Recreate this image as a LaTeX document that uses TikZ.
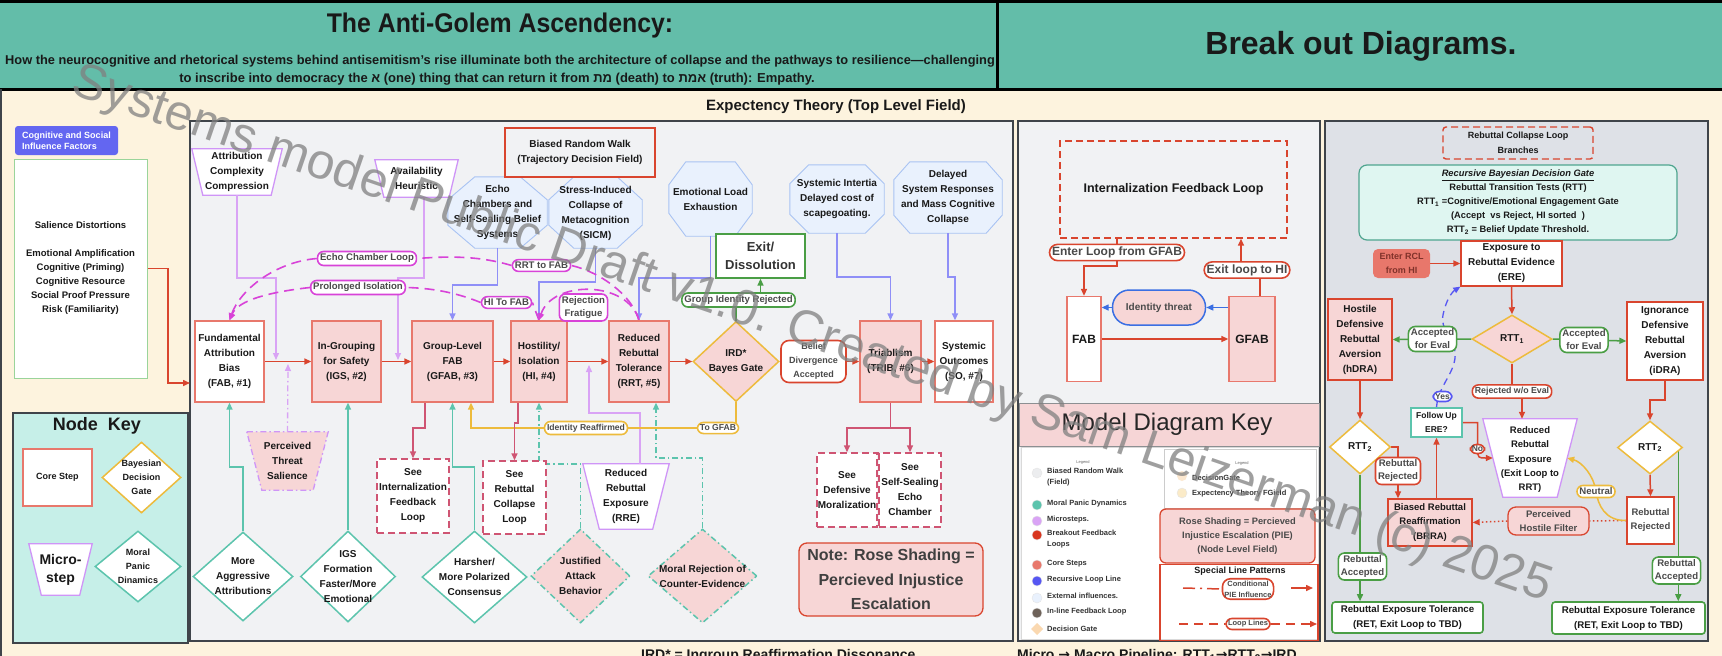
\documentclass[tikz,border=0pt]{standalone}
\usepackage{graphicx}
\usepackage{fontspec}
\setmainfont{Liberation Sans}
\newfontfamily\hebfont[Script=Hebrew]{Liberation Sans}
\newfontfamily\arrowfont{DejaVu Sans}
\TeXXeTstate=1
\usepackage{tikz}
\usetikzlibrary{shapes.geometric,arrows.meta}

\definecolor{headteal}{HTML}{63BDA9}
\definecolor{cream}{HTML}{FDF3DE}
\definecolor{panelgray}{HTML}{F1F2F4}
\definecolor{rclgray}{HTML}{DEE1E7}
\definecolor{paneledge}{HTML}{3F444A}
\definecolor{coreline}{HTML}{E8786C}
\definecolor{rosefill}{HTML}{F7D6D6}
\definecolor{microline}{HTML}{CF95F7}
\definecolor{microarrow}{HTML}{D9A3F5}
\definecolor{fieldfill}{HTML}{E9F1FD}
\definecolor{fieldline}{HTML}{A9C3F3}
\definecolor{fieldarrow}{HTML}{8F8FF7}
\definecolor{panicteal}{HTML}{5CC4AD}
\definecolor{gateyellow}{HTML}{EDBB3C}
\definecolor{loopmag}{HTML}{D843D8}
\definecolor{flowred}{HTML}{D9452E}
\definecolor{seecrimson}{HTML}{CF5573}
\definecolor{exitgreen}{HTML}{4A9E45}
\definecolor{keyteal}{HTML}{C6EFE8}
\definecolor{factorblue}{HTML}{6366F1}
\definecolor{factorline}{HTML}{9AD49A}
\definecolor{threatblue}{HTML}{3B6FE3}
\definecolor{gatefill}{HTML}{DFF6F1}
\definecolor{gateline}{HTML}{4FA58F}
\definecolor{enterfill}{HTML}{E8776B}
\definecolor{entertext}{HTML}{80322A}
\definecolor{labeltext}{HTML}{4A4A4A}
\definecolor{keyfill}{HTML}{F6D5D6}
\definecolor{brwdot}{HTML}{ECEDEF}
\definecolor{breakred}{HTML}{D8361F}
\definecolor{loopblue}{HTML}{5656F2}
\definecolor{inlinebrown}{HTML}{6E6259}
\definecolor{gatepale}{HTML}{FAD8B0}
\definecolor{etpale}{HTML}{FBEBC8}

\pgfdeclarelayer{panels}
\pgfdeclarelayer{edges}
\pgfsetlayers{panels,edges,main}

% outline of a micro step (wide top) and of a field influence (octagon)
\newcommand{\microshape}[3][]{%
	\filldraw[fill=white,draw=microline,line width=1.3pt,#1] ([xshift=-#3]#2.north west) -- ([xshift=#3]#2.north east) -- ([xshift=-#3]#2.south east) -- ([xshift=#3]#2.south west) -- cycle;}
\newcommand{\fieldshape}[3]{%
	\filldraw[fill=fieldfill,draw=fieldline,line width=0.9pt] ([xshift=#2]#1.north west) -- ([xshift=-#2]#1.north east) -- ([yshift=-#3]#1.north east) -- ([yshift=#3]#1.south east) -- ([xshift=-#2]#1.south east) -- ([xshift=#2]#1.south west) -- ([yshift=#3]#1.south west) -- ([yshift=-#3]#1.north west) -- cycle;}

\begin{document}
\begin{tikzpicture}[x=1pt,y=-1pt,>={Triangle[length=7pt,width=6pt]},
			every node/.style={font=\bfseries\fontsize{10}{15}\selectfont,align=center,inner sep=1pt,text=black!90},
			dims/.style 2 args={minimum width=#1pt,minimum height=#2pt},
			core node/.style={rectangle,draw=coreline,line width=1.3pt,fill=white},
			rose node/.style={core node,fill=rosefill},
			micro node/.style={rectangle,inner sep=0pt},
			field node/.style={rectangle,inner sep=0pt},
			gate node/.style={diamond,draw=gateyellow,line width=1.5pt,fill=white},
			panic node/.style={diamond,draw=panicteal,line width=1.5pt,fill=white},
			mixed dash/.style={dash pattern=on 6pt off 3pt on 1.5pt off 3pt},
			see node/.style={rectangle,draw=seecrimson,dash pattern=on 7pt off 4pt,line width=1.4pt,fill=white},
			tag node/.style={rectangle,rounded corners=6pt,draw,line width=1.6pt,fill=white,text=labeltext,inner sep=2.5pt,font=\bfseries\fontsize{9.6}{13}\selectfont},
			inside/.style={inner sep=0pt},
			flow/.style={->,draw=flowred,line width=1.5pt},
			see line/.style={->,draw=seecrimson,line width=1.5pt},
			field line/.style={->,draw=fieldarrow,line width=1.3pt},
			micro line/.style={->,draw=microarrow,line width=1.3pt},
			panic line/.style={->,draw=panicteal,line width=1.5pt},
			gate line/.style={->,draw=gateyellow,line width=1.5pt},
			exit line/.style={->,draw=exitgreen,line width=1.5pt},
			loop line/.style={draw=loopmag,line width=1.6pt,dash pattern=on 10pt off 6pt}
			]
			
			\def \rowy {361.5};
			\def \keyx {1037};
			
			\useasboundingbox (0,0) rectangle (1722,656);
			
			\begin{pgfonlayer}{panels}
			\fill[cream] (0,0) rectangle (1722,656);
			\fill[headteal] (0,0) rectangle (1722,89);
			\draw[black,line width=3pt] (0,1.5) -- (1722,1.5) (0,89) -- (1722,89) (997,0) -- (997,89);
			\draw[paneledge,line width=2pt] (1,89) -- (1,656);
			\filldraw[fill=panelgray,draw=paneledge,line width=2.5pt] (190,121) rectangle (1013,641);
			\filldraw[fill=panelgray,draw=paneledge,line width=2.5pt] (1018,121) rectangle (1320,641);
			\filldraw[fill=rclgray,draw=paneledge,line width=2.5pt] (1325,121) rectangle (1708,641);
			\filldraw[fill=keyteal,draw=paneledge,line width=2.5pt] (13,413) rectangle (188,643);
			\filldraw[fill=keyfill,draw=paneledge!60,line width=1pt] (1019,403) rectangle (1319,446);
			\filldraw[fill=white,draw=black!15,line width=0.6pt] (1021,447) rectangle (1318,639);
			\filldraw[fill=white,draw=black!20,line width=0.6pt] (1164,449) rectangle (1316,508);
			\end{pgfonlayer}
			
			% header
			\node[font=\bfseries\fontsize{27}{30}\selectfont] (title) at (500,26) {\scalebox{0.92}[1]{The Anti-Golem Ascendency:}};
			\begin{scope}
				\clip (0,0) rectangle (995,89);
				\node[anchor=west,font=\bfseries\fontsize{12.8}{15}\selectfont] (subA) at (4,61) {How the neurocognitive and rhetorical systems behind antisemitism’s rise illuminate both the architecture of collapse and the pathways to resilience—challenging us};
			\end{scope}
			\node[font=\bfseries\fontsize{13}{15}\selectfont] (subB) at (497,79) {to inscribe into democracy the {\hebfont\beginR א\endR} (one) thing that can return it from {\hebfont\beginR מת\endR} (death) to {\hebfont\beginR אמת\endR} (truth): Empathy.};
			\node[font=\bfseries\fontsize{32}{36}\selectfont] (breakout) at (1361,46) {Break out Diagrams.};
			\node[font=\bfseries\fontsize{15}{18}\selectfont] (extitle) at (836,107) {Expectency Theory (Top Level Field)};
			
			% influence factors
			\node[fill=factorblue,text=white,rounded corners=3pt,dims={103}{29},align=left,font=\bfseries\fontsize{9}{11}\selectfont] (cogtitle) at (66.5,140.5) {Cognitive and Social\\Influence Factors};
			\node[draw=factorline,line width=1pt,fill=white,dims={133}{219},font=\bfseries\fontsize{9.5}{14}\selectfont] (cogbox) at (80.5,268.5) {Salience Distortions\\[14pt]Emotional Amplification\\Cognitive (Priming)\\Cognitive Resource\\Social Proof Pressure\\Risk (Familiarity)};
			\coordinate (mainin) at (190,383);
			
			% node key
			\node[font=\bfseries\fontsize{18}{22}\selectfont] (nktitle) at (97,426) {Node\ \ Key};
			\node[core node,dims={69}{57},font=\bfseries\fontsize{9}{12}\selectfont] (kcore) at (57.5,477.5) {Core Step};
			\node[gate node,dims={79}{71},label={[inside,font=\bfseries\fontsize{9}{14}\selectfont]center:{Bayesian\\Decision\\Gate}}] (kbdg) at (141.5,477.5) {};
			\node[micro node,dims={50.5}{51},font=\bfseries\fontsize{14}{18}\selectfont] (kmicro) at (60.5,569.5) {Micro-\\step};
			\node[panic node,dims={86}{71},label={[inside,font=\bfseries\fontsize{9}{14}\selectfont]center:{Moral\\Panic\\Dinamics}}] (kmpd) at (138,566.5) {};
			
			% field influences
			\node[micro node,dims={79}{46}] (acc) at (237,172) {Attribution\\Complexity\\Compression};
			\node[micro node,dims={74}{37}] (ah) at (416.5,178.5) {Availability\\Heuristic};
			\node[rectangle,draw=flowred,line width=1.5pt,dims={150}{49}] (brw) at (580,152.5) {Biased Random Walk\\(Trajectory Decision Field)};
			\node[field node,dims={99}{71}] (echo) at (497.5,212.5) {Echo\\Chambers and\\Self-Sealing Belief\\Systems};
			\node[field node,dims={93}{71}] (sicm) at (595.5,212.5) {\\[-6pt]Stress-Induced\\Collapse of\\Metacognition\\(SICM)};
			\node[field node,dims={83}{74}] (ele) at (710.5,199) {Emotional Load\\Exhaustion};
			\node[field node,dims={94}{68}] (sysint) at (837,199) {Systemic Intertia\\Delayed cost of\\scapegoating.};
			\node[field node,dims={108}{71}] (dsr) at (948,197.5) {Delayed\\System Responses\\and Mass Cognitive\\Collapse};
			\node[core node,draw=exitgreen,dims={89}{44},text=black!80,font=\bfseries\fontsize{13}{18}\selectfont] (exit) at (760.5,256) {Exit/\\Dissolution};
			
			% core chain
			\node[core node,dims={69}{81}] (fab) at (229.5,\rowy) {Fundamental\\Attribution\\Bias\\(FAB, \#1)};
			\node[rose node,dims={69}{81}] (igs) at (346.5,\rowy) {In-Grouping\\for Safety\\(IGS, \#2)};
			\node[rose node,dims={81}{81}] (gfab) at (452.5,\rowy) {Group-Level\\FAB\\(GFAB, \#3)};
			\node[rose node,dims={56}{81}] (hi) at (539,\rowy) {Hostility/\\Isolation\\(HI, \#4)};
			\node[rose node,dims={60}{81}] (rrt) at (639,\rowy) {Reduced\\Rebuttal\\Tolerance\\(RRT, \#5)};
			\node[gate node,fill=rosefill,dims={86}{80},label={[inside]center:{IRD*\\Bayes Gate}}] (ird) at (736,\rowy) {};
			\node[tag node,draw=flowred,rounded corners=8pt,dims={65}{42},font=\bfseries\fontsize{9}{14}\selectfont] (bda) at (813.5,\rowy) {Belief\\Divergence\\Accepted};
			\node[rose node,dims={61}{81}] (trib) at (890.5,\rowy) {Triablism\\(TRIB, \#6)};
			\node[core node,dims={58}{81}] (so) at (964,\rowy) {Systemic\\Outcomes\\(SO, \#7)};
			
			% loop labels
			\node[tag node,draw=loopmag] (eclbl) at (367,258.5) {Echo Chamber Loop};
			\node[tag node,draw=loopmag] (pilbl) at (358,287.5) {Prolonged Isolation};
			\node[tag node,draw=loopmag] (rrtlbl) at (541.5,265.5) {RRT to FAB};
			\node[tag node,draw=loopmag] (hilbl) at (506.5,302.5) {HI To FAB};
			\node[tag node,draw=loopmag] (rflbl) at (583.5,307.5) {Rejection\\Fratigue};
			\node[tag node,draw=exitgreen] (girlbl) at (738.5,300) {Group Identity Rejected};
			\node[tag node,draw=gateyellow,font=\bfseries\fontsize{8.6}{10}\selectfont] (idrlbl) at (586,428) {Identity Reaffirmed};
			\node[tag node,draw=gateyellow,font=\bfseries\fontsize{8.6}{10}\selectfont] (togfablbl) at (718,428) {To GFAB};
			
			% moral panic and breakouts
			\node[micro node,dims={66}{58}] (pts) at (287.5,461) {Perceived\\Threat\\Salience};
			\node[panic node,dims={100}{89},label={[inside]center:{More\\Aggressive\\Attributions}}] (maa) at (243,576.5) {};
			\node[panic node,dims={95}{91},label={[inside]center:{IGS\\Formation\\Faster/More\\Emotional}}] (igsf) at (348,576.5) {};
			\node[see node,dims={72}{74}] (sifl) at (413,496) {See\\Internalization\\Feedback\\Loop};
			\node[see node,dims={63}{73}] (srcl) at (514.5,497.5) {See\\Rebuttal\\Collapse\\Loop};
			\node[panic node,dims={105}{92},label={[inside]center:{Harsher/\\More Polarized\\Consensus}}] (hmpc) at (474.5,577) {};
			\node[panic node,fill=rosefill,mixed dash,dims={99}{94},label={[inside]center:{Justified\\Attack\\Behavior}}] (jab) at (580.5,576) {};
			\node[micro node,dims={69.5}{65}] (rre) at (626,496.5) {Reduced\\Rebuttal\\Exposure\\(RRE)};
			\node[panic node,fill=rosefill,mixed dash,dims={109}{94},label={[inside]center:{Moral Rejection of\\Counter-Evidence}}] (mrce) at (702.5,576) {};
			\node[see node,dims={60}{74}] (sdm) at (847,490) {See\\Defensive\\Moralization};
			\node[see node,dims={62}{74}] (sse) at (910,490) {See\\Self-Sealing\\Echo\\Chamber};
			\node[rose node,draw=flowred,rounded corners=8pt,dims={184}{73},text=black!75,font=\bfseries\fontsize{16}{24.5}\selectfont] (note) at (891,579.5) {Note: Rose Shading =\\Percieved Injustice\\Escalation};
			
			% internalization loop
			\node[see node,draw=flowred,fill=none,dims={227}{97},font=\bfseries\fontsize{12.5}{15}\selectfont] (iflbox) at (1173.5,189.5) {Internalization Feedback Loop};
			\node[tag node,draw=flowred,rounded corners=8pt,font=\bfseries\fontsize{12}{14}\selectfont] (enterlbl) at (1117,252.5) {Enter Loop from GFAB};
			\node[tag node,draw=flowred,rounded corners=8pt,font=\bfseries\fontsize{12}{14}\selectfont] (exitlbl) at (1247,270) {Exit loop to HI};
			\node[rectangle,draw=threatblue,line width=1.5pt,fill=rosefill,rounded corners=17pt,dims={93}{35},text=labeltext] (idthreat) at (1159,307.5) {Identity threat};
			\node[core node,dims={34}{85},font=\bfseries\fontsize{12}{14}\selectfont] (mfab) at (1084,339) {FAB};
			\node[rose node,dims={46}{85},font=\bfseries\fontsize{12}{14}\selectfont] (mgfab) at (1252,339) {GFAB};
			
			% model diagram key
			\node[font=\fontsize{24}{28}\selectfont,text=black!85] (mdkey) at (1167,424) {Model Diagram Key};
			\node[font=\fontsize{4}{5}\selectfont,text=black!60] (legendA) at (1083,462) {Legend};
			\node[font=\fontsize{4}{5}\selectfont,text=black!60] (legendB) at (1242,463) {Legend};
			\foreach \y/\c/\t [count=\i] in {473/brwdot/{Biased Random Walk\\(Field)}, 505/panicteal/{Moral Panic Dynamics}, 521/microarrow/{Microsteps.}, 535/breakred/{Breakout Feedback\\Loops}, 565/coreline/{Core Steps}, 581/loopblue/{Recursive Loop Line}, 598/fieldfill/{External influences.}, 613/inlinebrown/{In-line Feedback Loop}}
			{
				\filldraw[fill=\c,draw=black!10] (\keyx,\y) circle (5pt);
				\node[anchor=north west,inner sep=0pt,align=left,text=black!80,font=\bfseries\fontsize{7.5}{11}\selectfont] (leg\i) at (\keyx+10,\y-5) {\t};
			}
			\fill[gatepale] (\keyx,623) -- (\keyx+6,629) -- (\keyx,635) -- (\keyx-6,629) -- cycle;
			\node[anchor=west,inner sep=0pt,text=black!80,font=\bfseries\fontsize{7.5}{11}\selectfont] (leg9) at (\keyx+10,629) {Decision Gate};
			\fill[gatepale!60] (1182,476) circle (5pt);
			\node[anchor=west,inner sep=0pt,text=black!80,font=\bfseries\fontsize{7.5}{11}\selectfont] (legDG) at (1192,478) {DecisionGate};
			\filldraw[fill=etpale,draw=black!10] (1182,493) circle (5pt);
			\node[anchor=west,inner sep=0pt,text=black!80,font=\bfseries\fontsize{7.5}{11}\selectfont] (legET) at (1192,494) {Expectency Theory FGield};
			\node[rose node,draw=flowred,rounded corners=6pt,dims={155}{54},text=labeltext,font=\bfseries\fontsize{9.3}{14}\selectfont] (rosekey) at (1237.5,536) {Rose Shading = Percieved\\Injustice Escalation (PIE)\\(Node Level Field)};
			\node[rectangle,draw=flowred,line width=1.5pt,dims={158}{76}] (spbox) at (1239,602.5) {};
			\node[font=\bfseries\fontsize{9}{11}\selectfont] (sptitle) at (1240,571) {Special Line Patterns};
			\node[tag node,draw=flowred,rounded corners=8pt,inner sep=2pt,font=\bfseries\fontsize{7.5}{11}\selectfont] (condlbl) at (1248,589) {Conditional\\PIE Influence};
			\node[tag node,draw=flowred,rounded corners=6pt,inner sep=2pt,font=\bfseries\fontsize{7.5}{9}\selectfont] (looplbl) at (1248,624) {Loop Lines};
			\coordinate (spA) at (1183,588);
			\coordinate (spB) at (1291,588);
			\coordinate (spC) at (1313,588);
			\coordinate (spD) at (1179,624);
			\coordinate (spE) at (1317,624);
			
			% rebuttal collapse loop
			\node[see node,draw=flowred,fill=none,rounded corners=3pt,dims={150}{32},font=\bfseries\fontsize{9}{15}\selectfont] (rclb) at (1518,143) {Rebuttal Collapse Loop\\Branches};
			\node[rectangle,draw=gateline,line width=1.2pt,fill=gatefill,rounded corners=8pt,dims={318}{75},font=\bfseries\fontsize{9.3}{14}\selectfont] (rbdg) at (1518,202.5) {\underline{\textit{Recursive Bayesian Decision Gate}}\\Rebuttal Transition Tests (RTT)\\RTT\textsubscript{1} =Cognitive/Emotional Engagement Gate\\(Accept\ \ vs Reject, HI sorted\ \ )\\RTT\textsubscript{2} = Belief Update Threshold.};
			\node[core node,draw=flowred,dims={101}{45}] (ere) at (1511.5,263.5) {Exposure to\\Rebuttal Evidence\\(ERE)};
			\node[fill=enterfill,rounded corners=5pt,dims={57}{29},text=entertext,font=\bfseries\fontsize{9}{14}\selectfont] (ercl) at (1401.5,263.5) {Enter RCL\\from HI};
			\node[gate node,fill=rosefill,dims={80}{48},label={[inside]center:{RTT\textsubscript{1}}}] (rtt1) at (1512,339) {};
			\node[tag node,draw=exitgreen,rounded corners=7pt] (acclL) at (1432.5,339) {Accepted\\for Eval};
			\node[tag node,draw=exitgreen,rounded corners=7pt] (acclR) at (1584,340) {Accepted\\for Eval};
			\node[rose node,draw=flowred,dims={64}{81}] (hdra) at (1360,339.5) {Hostile\\Defensive\\Rebuttal\\Aversion\\(hDRA)};
			\node[core node,draw=flowred,dims={76}{78}] (idra) at (1665,341) {Ignorance\\Defensive\\Rebuttal\\Aversion\\(iDRA)};
			\node[tag node,draw=flowred,font=\bfseries\fontsize{8.8}{10}\selectfont] (rejlbl) at (1512,391.5) {Rejected w/o Eval};
			\node[tag node,draw=loopblue,inner sep=2pt,font=\bfseries\fontsize{8.5}{10}\selectfont] (yeslbl) at (1442.5,396.5) {Yes};
			\node[core node,draw=panicteal,dims={51}{29},font=\bfseries\fontsize{8.5}{14}\selectfont] (fuere) at (1436.5,422.5) {Follow Up\\ERE?};
			\node[gate node,dims={61}{54},label={[inside]center:{RTT\textsubscript{2}}}] (rtt2L) at (1360,447) {};
			\node[tag node,draw=flowred] (rrejL) at (1398,471) {Rebuttal\\Rejected};
			\node[rose node,draw=flowred,dims={84}{47},font=\bfseries\fontsize{9.5}{14.5}\selectfont] (brra) at (1430,522.5) {Biased Rebuttal\\Reaffirmation\\(BRRA)};
			\node[tag node,draw=exitgreen] (raccL) at (1362.5,566.5) {Rebuttal\\Accepted};
			\node[core node,draw=exitgreen,line width=1.6pt,rounded corners=3pt,dims={151}{31},font=\bfseries\fontsize{9.7}{15}\selectfont] (retL) at (1407.5,617.5) {Rebuttal Exposure Tolerance\\(RET, Exit Loop to TBD)};
			\node[tag node,draw=flowred,inner sep=1.5pt,font=\bfseries\fontsize{8.5}{10}\selectfont] (nolbl) at (1477.5,449) {No};
			\node[micro node,dims={74}{78},font=\bfseries\fontsize{9.5}{14.3}\selectfont] (rrex) at (1530,458) {\\[-4pt]Reduced\\Rebuttal\\Exposure\\(Exit Loop to\\RRT)};
			\node[gate node,dims={65}{53},label={[inside]center:{RTT\textsubscript{2}}}] (rtt2R) at (1650,447.5) {};
			\node[core node,draw=flowred,dims={47}{47},text=labeltext,font=\bfseries\fontsize{9.5}{14}\selectfont] (rrejR) at (1650.5,520.5) {Rebuttal\\Rejected};
			\node[tag node,draw=exitgreen] (raccR) at (1676.5,570.5) {Rebuttal\\Accepted};
			\node[core node,draw=exitgreen,line width=1.6pt,rounded corners=3pt,dims={153}{32},font=\bfseries\fontsize{9.7}{15}\selectfont] (retR) at (1628.5,618) {Rebuttal Exposure Tolerance\\(RET, Exit Loop to TBD)};
			\node[rose node,draw=flowred,rounded corners=8pt,dims={81}{28},text=labeltext,font=\bfseries\fontsize{9.5}{14}\selectfont] (phf) at (1548.5,521) {Perceived\\Hostile Filter};
			\node[tag node,draw=gateyellow] (neutral) at (1596,491.5) {Neutral};
			
			% bottom notes
			\node[anchor=base west,font=\bfseries\fontsize{14}{16}\selectfont] (irdnote) at (640,659) {IRD* = Ingroup Reaffirmation Dissonance};
			\node[anchor=base west,font=\bfseries\fontsize{14}{16}\selectfont] (pipeline) at (1016,659) {Micro {\arrowfont →} Macro Pipeline: RTT\textsubscript{1}{\arrowfont →}RTT\textsubscript{2}{\arrowfont →}IRD};
			
			% outlines behind the text
			\begin{pgfonlayer}{panels}
			\microshape{kmicro}{6.25pt}
			\microshape{acc}{5.5pt}
			\microshape{ah}{4.5pt}
			\microshape[fill=rosefill,mixed dash]{pts}{7.5pt}
			\microshape{rre}{8.25pt}
			\microshape{rrex}{10pt}
			\fieldshape{echo}{27pt}{23pt}
			\fieldshape{sicm}{25pt}{23pt}
			\fieldshape{ele}{17pt}{23pt}
			\fieldshape{sysint}{19pt}{19pt}
			\fieldshape{dsr}{16pt}{18pt}
			\end{pgfonlayer}
			
			\begin{pgfonlayer}{edges}
			\coordinate (fabigs) at (276,360);
			\coordinate (ptsin) at (288,364);
			\coordinate (igsgfab) at (398,360);
			\coordinate (hirrt) at (589,365);
			
			\draw[flow] (cogbox.east) -| (168,383) -- (mainin);
			
			\draw[flow] (fab) -- (igs);
			\draw[flow] (igs) -- (gfab);
			\draw[flow] (gfab) -- (hi);
			\draw[flow] (hi) -- (rrt);
			\draw[flow] (rrt) -- (ird);
			\draw[flow] (ird) -- (trib);
			\draw[flow] (trib) -- (so);
			
			\draw[micro line] (acc.south) |- (276,278) -- (fabigs);
			\draw[micro line] ([xshift=7.5pt]ah.south) |- (398,278) -- (igsgfab);
			\draw[micro line,mixed dash] (pts.north) -- (ptsin);
			\draw[micro line] ([xshift=14pt]rre.north) |- (589,413) -- (hirrt);
			
			\draw[field line] (echo.south) |- (452.5,285) -- (gfab.north);
			\draw[field line] (sicm.south) |- (539,282) -- (hi.north);
			\draw[field line] (ele.south) |- (639,278) -- (rrt.north);
			\draw[field line] (sysint.south) |- (890.5,277) -- (trib.north);
			\draw[field line] (dsr.south) |- (955,277) -- ([xshift=-9pt]so.north);
			
			\draw[draw=exitgreen,line width=1.5pt] (ird.north) -- (ird.north |- girlbl.south);
			\draw[exit line] (exit.south |- girlbl.north) -- (exit.south);
			
			\draw[loop line] (rrt.north) .. controls (632,295) and (600,272) .. (rrtlbl.east);
			\draw[loop line] (rrtlbl.west) .. controls (480,256) and (450,256) .. (eclbl.east);
			\draw[loop line,->] (eclbl.west) .. controls (275,262) and (240,290) .. (fab.north);
			\draw[loop line] (hi.north) -- (hilbl.east);
			\draw[loop line] (hilbl.west) .. controls (455,292) and (430,288) .. (pilbl.east);
			\draw[loop line,->] (pilbl.west) .. controls (270,292) and (238,300) .. (fab.north);
			\draw[loop line,->] (rrt.north) .. controls (628,280) and (552,280) .. (hi.north);
			
			\draw[panic line] (maa.north) |- (229.5,467) -- (fab.south);
			\draw[panic line] (igsf.north) -- (igsf.north |- igs.south);
			\draw[panic line] (hmpc.north) |- (452.5,467) -- (gfab.south);
			\draw[panic line,mixed dash] (jab.north) |- (539,464) -- (hi.south);
			\draw[panic line,mixed dash] (mrce.north) |- (656,458) -- ([xshift=17pt]rrt.south);
			
			\draw[gate line] (ird.south) |- (471,428) -- ([xshift=18.5pt]gfab.south);
			
			\draw[see line] ([xshift=-27.5pt]gfab.south) |- (413,428) -- (sifl.north);
			\draw[see line] ([xshift=-21pt]hi.south) |- (514.5,423) -- (srcl.north);
			\draw[see line] (trib.south) |- (847,428) -- (sdm.north);
			\draw[see line] (trib.south) |- (910,428) -- (sse.north);
			
			% internalization loop
			\coordinate (gfabup) at ([xshift=8pt]mgfab.north);
			\coordinate (exitup) at ([xshift=-6pt]exitlbl.north);
			\draw[flow] (mfab) -- (mgfab);
			\draw[->,draw=threatblue,line width=1.3pt] (mgfab.west |- idthreat.east) -- (idthreat.east);
			\draw[->,draw=threatblue,line width=1.3pt] (idthreat.west) -- (mfab.east |- idthreat.west);
			\draw[flow] (enterlbl.north |- iflbox.south) -- (enterlbl.south) |- (1084,266) -- (mfab.north);
			\draw[draw=flowred,line width=1.5pt] (gfabup) -- (gfabup |- exitlbl.south);
			\draw[flow] (exitup) -- (exitup |- iflbox.south);
			
			% special line patterns
			\draw[draw=flowred,line width=1.5pt,dash pattern=on 12pt off 5pt on 2pt off 5pt] (spA) -- (condlbl.west);
			\draw[flow] (spB) -- (spC);
			\draw[draw=flowred,line width=1.5pt,dash pattern=on 9pt off 6pt] (spD) -- (looplbl.west);
			\draw[flow,dash pattern=on 9pt off 6pt] (looplbl.east) -- (spE);
			
			% rebuttal collapse loop
			\coordinate (rttRdrop) at ([xshift=-5pt]rtt2R.east);
			\draw[flow] (ercl) -- (ere);
			\draw[flow] (ere.south) -- (rtt1.north);
			\draw[exit line] (rtt1.west) -- (hdra.east);
			\draw[exit line] (rtt1.east) -- (idra.west);
			\draw[flow] (rtt1.south) -- (rtt1.south |- rejlbl.center) -| ([xshift=-8pt]rrex.north);
			\draw[flow] (hdra.south) -- (rtt2L.north);
			\draw[flow] (idra.south) |- (1650,400) -- (rtt2R.north);
			\draw[flow] (rtt2L.east) -| ([xshift=-32pt]brra.north);
			\draw[exit line] (rtt2L.south) -- (rtt2L.south |- retL.north);
			\draw[flow] (fuere.south |- brra.north) -- (fuere.south);
			\draw[flow] (fuere.east) -| (nolbl.center) .. controls (1478,458) .. (rrex.west);
			\draw[->,draw=loopblue,line width=1.3pt,dash pattern=on 7pt off 5pt] (fuere.north) .. controls (1438,385) and (1457,372) .. (1455,352) .. controls (1453,335) and (1440,330) .. (1443,315) .. controls (1446,300) and (1452,292) .. (ere.south west);
			\draw[flow] (rtt2R.south) -- (rrejR.north);
			\draw[exit line] (rttRdrop) -- (rttRdrop |- retR.north);
			\draw[draw=flowred,line width=1.5pt,dash pattern=on 1.5pt off 2.5pt] (rrejR.west) -- (phf.east);
			\draw[flow,dash pattern=on 1.5pt off 2.5pt] (phf.west) -- (brra.east);
			\draw[gate line] (rrejR.west) .. controls (1605,521) and (1598,505) .. (neutral.center) .. controls (1594,476) and (1582,462) .. (rrex.east);
			\end{pgfonlayer}
			
			% watermark
			\node[rotate=-19,text=black!50,opacity=0.75,font=\fontsize{50}{54}\selectfont] (mark) at (812,335) {Systems model Public Draft v1.0. Created by Sam Leizerman (c) 2025};
			
		\end{tikzpicture}
\end{document}
